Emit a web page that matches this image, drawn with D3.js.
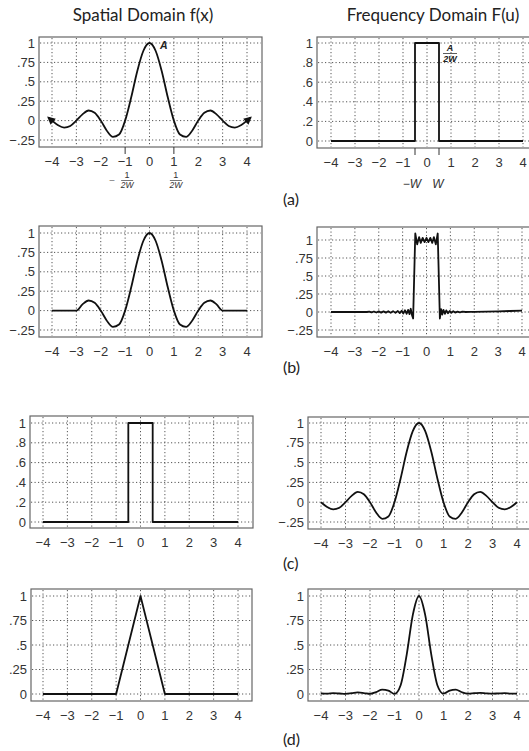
<!DOCTYPE html>
<html><head><meta charset="utf-8">
<script src="https://cdn.jsdelivr.net/npm/d3@7/dist/d3.min.js"></script>
<style>body{margin:0;background:#fff}svg{display:block}</style>
</head><body><svg id="c" width="529" height="751"></svg>
<script>
// ---------- data ----------
const xTicks = [-4,-3,-2,-1,0,1,2,3,4];
const xTickLabels = ["−4","−3","−2","−1","0","1","2","3","4"];
const yTicksQ = [-0.25,0,0.25,0.5,0.75,1];
const yLabelsQ = ["−.25","0",".25",".5",".75","1"];
const yTicksP = [0,0.25,0.5,0.75,1];
const yLabelsP = ["0",".25",".5",".75","1"];
const yTicksF = [0,0.2,0.4,0.6,0.8,1];
const yLabelsF = ["0",".2",".4",".6",".8","1"];

// (a) spatial: sinc with arrow ends
const sincArrowX = [-4.15,-4,-3.75,-3.5,-3.25,-3,-2.75,-2.5,-2.25,-2,-1.75,-1.5,-1.25,-1,-0.75,-0.5,-0.25,0,0.25,0.5,0.75,1,1.25,1.5,1.75,2,2.25,2.5,2.75,3,3.25,3.5,3.75,4,4.15];
const sincArrowY = [0.04,0,-0.06,-0.09,-0.07,0,0.08,0.13,0.10,0,-0.13,-0.21,-0.18,0,0.30,0.64,0.90,1,0.90,0.64,0.30,0,-0.18,-0.21,-0.13,0,0.10,0.13,0.08,0,-0.07,-0.09,-0.06,0,0.04];
// (a) frequency / (c) spatial: box
const boxX = [-4,-0.5,-0.5,0.5,0.5,4];
const boxY = [0,0,1,1,0,0];
// (b) spatial: truncated sinc
const truncX = [-4,-3.5,-3,-2.75,-2.5,-2.25,-2,-1.75,-1.5,-1.25,-1,-0.75,-0.5,-0.25,0,0.25,0.5,0.75,1,1.25,1.5,1.75,2,2.25,2.5,2.75,3,3.5,4];
const truncY = [0,0,0,0.08,0.13,0.10,0,-0.13,-0.21,-0.18,0,0.30,0.64,0.90,1,0.90,0.64,0.30,0,-0.18,-0.21,-0.13,0,0.10,0.13,0.08,0,0,0];
// (b) frequency: box with ringing
const ringX = [-4,-3,-2.5,-2.4,-2.3,-2.2,-2.1,-2.0,-1.9,-1.8,-1.7,-1.6,-1.5,-1.4,-1.3,-1.2,-1.12,-1.04,-0.97,-0.9,-0.83,-0.77,-0.71,-0.66,-0.61,-0.56,-0.47,-0.39,-0.31,-0.24,-0.16,-0.08,0,0.08,0.16,0.24,0.31,0.39,0.47,0.56,0.61,0.66,0.71,0.77,0.83,0.9,0.97,1.04,1.12,1.2,1.3,1.4,1.5,1.65,1.8,2.0,2.5,3,3.5,4];
const ringY = [0,0,0,0.006,-0.006,0.007,-0.007,0.008,-0.008,0.009,-0.009,0.01,-0.01,0.012,-0.012,0.014,-0.015,0.018,-0.02,0.024,-0.025,0.03,-0.03,0.045,-0.04,-0.09,1.09,0.94,1.04,0.96,1.03,0.97,1.03,0.97,1.03,0.96,1.04,0.94,1.09,-0.09,0.04,-0.035,0.03,-0.025,0.022,-0.018,0.015,-0.012,0.01,-0.008,0.006,-0.005,0.004,0,0.002,0.003,0.006,0.01,0.014,0.02];
// (c) frequency: sinc
const sincX = [-4,-3.75,-3.5,-3.25,-3,-2.75,-2.5,-2.25,-2,-1.75,-1.5,-1.25,-1,-0.75,-0.5,-0.25,0,0.25,0.5,0.75,1,1.25,1.5,1.75,2,2.25,2.5,2.75,3,3.25,3.5,3.75,4];
const sincY = [0,-0.06,-0.09,-0.07,0,0.08,0.13,0.10,0,-0.13,-0.21,-0.18,0,0.30,0.64,0.90,1,0.90,0.64,0.30,0,-0.18,-0.21,-0.13,0,0.10,0.13,0.08,0,-0.07,-0.09,-0.06,0];
// (d) spatial: triangle
const triX = [-4,-1,0,1,4];
const triY = [0,0,1,0,0];
// (d) frequency: sinc squared (noisy)
const sinc2X = [-4,-3.75,-3.5,-3.25,-3,-2.75,-2.5,-2.25,-2,-1.75,-1.5,-1.25,-1,-0.75,-0.5,-0.25,0,0.25,0.5,0.75,1,1.25,1.5,1.75,2,2.25,2.5,2.75,3,3.25,3.5,3.75,4];
const sinc2Y = [0.005,0.003,0.008,0.005,0.002,0.008,0.016,0.01,0.001,0.02,0.045,0.035,0.002,0.09,0.405,0.81,1,0.81,0.405,0.09,0.003,0.035,0.045,0.018,0.004,0.008,0.012,0.007,0.004,0.006,0.008,0.004,0.004];

const titles = ["Spatial Domain  f(x)","Frequency Domain F(u)"];
const panelLabels = ["(a)","(b)","(c)","(d)"];

// ---------- layout ----------
const svg = d3.select("#c");
const font = "'Liberation Sans', Arial, sans-serif";
const tfont = "Lato, 'Open Sans', sans-serif";

const panels = [
  {box:[39,37,262,147], xr:[52,247], yd:[-0.25,1], yr:[140,43], yt:yTicksQ, yl:yLabelsQ, xs:sincArrowX, ys:sincArrowY, smooth:true, arrows:true},
  {box:[317,37,535,148], xr:[331,523], yd:[0,1], yr:[141,43], yt:yTicksF, yl:yLabelsF, xs:boxX, ys:boxY, smooth:false},
  {box:[39,226,262,337], xr:[52,247], yd:[-0.25,1], yr:[330,233], yt:yTicksQ, yl:yLabelsQ, xs:truncX, ys:truncY, smooth:true},
  {box:[317,227,535,337], xr:[331,522], yd:[-0.25,1], yr:[330,240], yt:yTicksQ, yl:yLabelsQ, xs:ringX, ys:ringY, smooth:false},
  {box:[30,416,253,528], xr:[43,238], yd:[0,1], yr:[522,423], yt:yTicksF, yl:yLabelsF, xs:boxX, ys:boxY, smooth:false},
  {box:[308,417,535,529], xr:[321,517], yd:[-0.25,1], yr:[522,423], yt:yTicksQ, yl:yLabelsQ, xs:sincX, ys:sincY, smooth:true},
  {box:[31,589,252,701], xr:[43,238], yd:[0,1], yr:[694,596], yt:yTicksP, yl:yLabelsP, xs:triX, ys:triY, smooth:false},
  {box:[308,589,535,701], xr:[321,517], yd:[0,1], yr:[694,596], yt:yTicksP, yl:yLabelsP, xs:sinc2X, ys:sinc2Y, smooth:true}
];

const defs = svg.append("defs");
defs.append("marker").attr("id","arr").attr("viewBox","0 0 10 10")
  .attr("refX",8).attr("refY",5).attr("markerUnits","userSpaceOnUse")
  .attr("markerWidth",9).attr("markerHeight",8).attr("orient","auto-start-reverse")
  .append("path").attr("d","M0,0 L10,5 L0,10 z").attr("fill","#111");

const scales = [];
panels.forEach((p,i)=>{
  const g = svg.append("g");
  const x = d3.scaleLinear().domain([-4,4]).range(p.xr);
  const y = d3.scaleLinear().domain(p.yd).range(p.yr);
  scales.push({x,y});
  const [l,t,r,b] = p.box;
  // grid
  g.selectAll(".vg").data(xTicks).join("line")
    .attr("x1",d=>x(d)).attr("x2",d=>x(d)).attr("y1",t+1).attr("y2",b-1)
    .attr("stroke","#555").attr("stroke-width",1).attr("stroke-dasharray","1.2,2.3");
  g.selectAll(".hg").data(p.yt).join("line")
    .attr("y1",d=>y(d)).attr("y2",d=>y(d)).attr("x1",l+1).attr("x2",r-1)
    .attr("stroke","#555").attr("stroke-width",1).attr("stroke-dasharray","1.2,2.3");
  // frame
  g.append("rect").attr("x",l).attr("y",t).attr("width",r-l).attr("height",b-t)
    .attr("fill","none").attr("stroke","#666").attr("stroke-width",1.2);
  // x labels
  g.selectAll(".xl").data(xTicks).join("text")
    .attr("x",d=>x(d)).attr("y",b+19).attr("text-anchor","middle")
    .attr("font-family",font).attr("font-size",13).attr("fill","#333")
    .text((d,j)=>xTickLabels[j]);
  // y labels
  g.selectAll(".yl").data(p.yt).join("text")
    .attr("x",l-4).attr("y",d=>y(d)+4.5).attr("text-anchor","end")
    .attr("font-family",font).attr("font-size",13).attr("fill","#333")
    .text((d,j)=>p.yl[j]);
  // curve
  const pts = p.xs.map((v,j)=>[v,p.ys[j]]);
  const line = d3.line().x(d=>x(d[0])).y(d=>y(d[1]))
    .curve(p.smooth ? d3.curveMonotoneX : d3.curveLinear);
  const path = g.append("path").attr("d",line(pts)).attr("fill","none")
    .attr("stroke","#111").attr("stroke-width",1.8).attr("stroke-linejoin","round");
  if (p.arrows) path.attr("marker-start","url(#arr)").attr("marker-end","url(#arr)");
});

// extra tick marks & annotations for row (a)
const sA = scales[0], fA = scales[1];
[-1,1].forEach(v=>{
  svg.append("line").attr("x1",sA.x(v)).attr("x2",sA.x(v)).attr("y1",147).attr("y2",154)
    .attr("stroke","#333").attr("stroke-width",1);
});
[-0.5,0.5].forEach(v=>{
  svg.append("line").attr("x1",fA.x(v)).attr("x2",fA.x(v)).attr("y1",148).attr("y2",155)
    .attr("stroke","#333").attr("stroke-width",1);
});
// fractions -1/2W and 1/2W
[[-1,true],[1,false]].forEach(([v,neg])=>{
  const cx = sA.x(v)+2;
  svg.append("text").attr("x",cx).attr("y",178).attr("text-anchor","middle")
    .attr("font-family",font).attr("font-size",9).attr("fill","#333").text("1");
  svg.append("line").attr("x1",cx-6).attr("x2",cx+6).attr("y1",180.5).attr("y2",180.5)
    .attr("stroke","#555").attr("stroke-width",0.8);
  svg.append("text").attr("x",cx).attr("y",187.5).attr("text-anchor","middle")
    .attr("font-family",font).attr("font-size",8.5).attr("font-style","italic").attr("fill","#333").text("2W");
  if (neg) svg.append("text").attr("x",cx-12).attr("y",184).attr("text-anchor","end")
    .attr("font-family",font).attr("font-size",10).attr("fill","#777").text("−");
});
svg.append("text").attr("x",fA.x(-0.5)-3).attr("y",188).attr("text-anchor","middle")
  .attr("font-family",font).attr("font-size",12).attr("font-style","italic").attr("fill","#333").text("−W");
svg.append("text").attr("x",fA.x(0.5)-1).attr("y",188).attr("text-anchor","middle")
  .attr("font-family",font).attr("font-size",12).attr("font-style","italic").attr("fill","#333").text("W");
// A labels
svg.append("text").attr("x",160).attr("y",49).attr("font-family",font).attr("font-size",10.5)
  .attr("font-style","italic").attr("font-weight","bold").attr("fill","#222").text("A");
svg.append("text").attr("x",450).attr("y",51).attr("text-anchor","middle").attr("font-family",font).attr("font-size",9)
  .attr("font-style","italic").attr("font-weight","bold").attr("fill","#222").text("A");
svg.append("line").attr("x1",443).attr("x2",457).attr("y1",53.5).attr("y2",53.5).attr("stroke","#333").attr("stroke-width",0.8);
svg.append("text").attr("x",450).attr("y",62).attr("text-anchor","middle").attr("font-family",font).attr("font-size",9)
  .attr("font-style","italic").attr("font-weight","bold").attr("fill","#222").text("2W");

// titles
[[143,titles[0]],[433,titles[1]]].forEach(([cx,t])=>{
  svg.append("text").attr("x",cx).attr("y",21).attr("text-anchor","middle")
    .attr("font-family",tfont).attr("font-size",17).attr("fill","#222").text(t);
});
// panel labels
const labY = [205,373,569,745];
panelLabels.forEach((t,i)=>{
  svg.append("text").attr("x",283).attr("y",labY[i]).attr("font-family",tfont)
    .attr("font-size",16).attr("fill","#222").text(t);
});
</script></body></html>
